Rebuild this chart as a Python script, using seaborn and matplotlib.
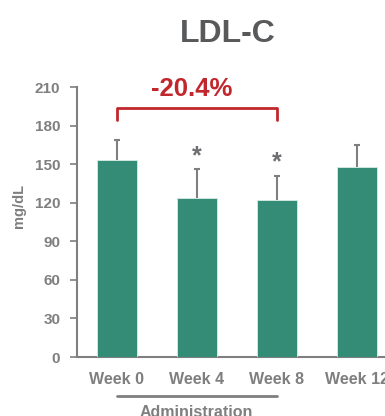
import numpy as np
import pandas as pd
import matplotlib
matplotlib.use('Agg')
import matplotlib.pyplot as plt
import seaborn as sns

weeks = ['Week 0', 'Week 4', 'Week 8', 'Week 12']
ldl_mean = [153, 124, 122, 148]
ldl_sd = [16, 22, 19, 17]
signif = ['', '*', '*', '']
change_label = '-20.4%'

sns.set_style('white')
plt.rcParams['font.family'] = ['Liberation Sans', 'DejaVu Sans']
plt.rcParams['font.weight'] = 'bold'

gray = '#7f7f7f'
green = '#348b76'
red = '#c1272d'

df = pd.DataFrame({'week': weeks, 'ldl': ldl_mean})

fig = plt.figure(figsize=(3.85, 4.16), dpi=100)
ax = fig.add_axes([0.2, 0.1418, 0.831, 0.649])

sns.barplot(data=df, x='week', y='ldl', order=weeks, color=green, width=0.5,
            saturation=1, edgecolor='#d8ece5', linewidth=0.6, errorbar=None, ax=ax)
for p in ax.patches:
    p.set_zorder(3)
x = np.arange(len(weeks))
eb = ax.errorbar(x, ldl_mean, yerr=[np.zeros(len(ldl_sd)), ldl_sd], fmt='none',
                 ecolor=gray, elinewidth=1.5, capsize=2.5, capthick=1.5, zorder=1)
# only the upper cap is wanted
for cap in eb[1]:
    if np.allclose(cap.get_ydata(), ldl_mean):
        cap.set_visible(False)

for xi, m, s, mark in zip(x, ldl_mean, ldl_sd, signif):
    if mark:
        ax.text(xi, m + s + 5, mark, ha='center', va='baseline',
                fontsize=18, color='#6d6e71', fontweight='bold')

# bracket Week 0 -> Week 8
ax.plot([0, 0, 2, 2], [184, 194, 194, 184], color=red, lw=2, clip_on=False)
ax.text(0.94, 203, change_label, ha='center', va='baseline', fontsize=18.5,
        color=red, fontweight='bold', clip_on=False)

ax.set_xlim(-0.5, 3.5)
ax.set_ylim(0, 210)
ax.set_yticks(range(0, 211, 30))
ax.set_xlabel('')
ax.set_ylabel('mg/dL', color=gray, fontsize=10.5, fontweight='bold')
ax.yaxis.set_label_coords(-0.16, 0.56)
ax.tick_params(axis='y', colors=gray, labelsize=11, length=5, width=1.2,
               direction='out', left=True, pad=7)
ax.tick_params(axis='x', colors=gray, labelsize=11.5, length=0, pad=11)
for lab in ax.get_xticklabels() + ax.get_yticklabels():
    lab.set_fontweight('bold')
    lab.set_color(gray)
for side in ['top', 'right']:
    ax.spines[side].set_visible(False)
for side in ['left', 'bottom']:
    ax.spines[side].set_color(gray)
    ax.spines[side].set_linewidth(1.5)

# administration line under weeks 0-8
ax.plot([0, 2], [-30.5, -30.5], color=gray, lw=2, clip_on=False)
ax.text(0.99, -37, 'Administration', ha='center', va='top', fontsize=11.5,
        color=gray, fontweight='bold', clip_on=False)

fig.text(0.592, 0.918, 'LDL-C', ha='center', va='center', fontsize=23,
         color='#58595b', fontweight='bold')

fig.savefig('out.png', dpi=100)
